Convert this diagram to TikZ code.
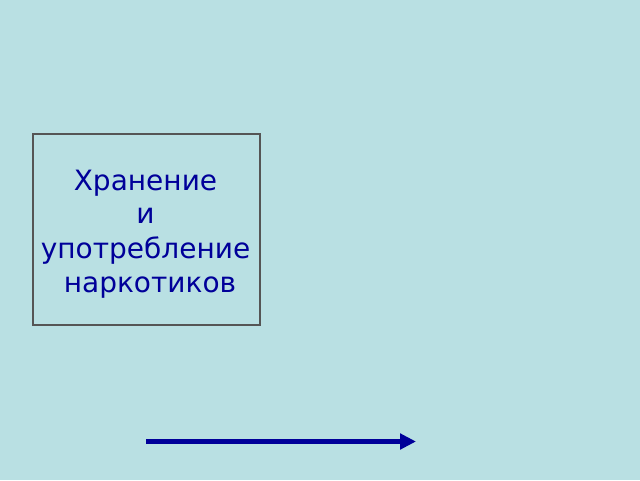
\documentclass[tikz,border=0pt]{standalone}
\usepackage{fontspec}
\setmainfont{DejaVu Sans}
\usetikzlibrary{arrows.meta}
\definecolor{bg}{RGB}{185,224,227}
\definecolor{txt}{RGB}{0,0,153}
\definecolor{frame}{RGB}{85,85,85}
\begin{document}
\begin{tikzpicture}[x=0.75pt,y=-0.75pt,
  line/.style={text=txt,font=\fontsize{21}{24}\selectfont,anchor=base,inner sep=0pt},
  framebox/.style={draw=frame,line width=0.8pt,minimum width=227*0.75pt,minimum height=191*0.75pt,inner sep=0pt},
  arrowline/.style={draw=txt,line width=4.2pt,-{Triangle[length=12pt,width=11.5pt]}}]
\fill[bg] (0,0) rectangle (640,480);
\useasboundingbox (0,0) rectangle (640,480);
\node[framebox] (box) at (146.5,229.5) {};
\node[line] (t1) at (145.5,190) {Хранение};
\node[line] (t2) at (145.5,223.5) {и};
\node[line] (t3) at (145.5,258) {употребление};
\node[line] (t4) at (145.5,292) {\ наркотиков};
\coordinate (a1) at (146,441.5);
\coordinate (a2) at (416,441.5);
\draw[arrowline] (a1) -- (a2);
\end{tikzpicture}
\end{document}
